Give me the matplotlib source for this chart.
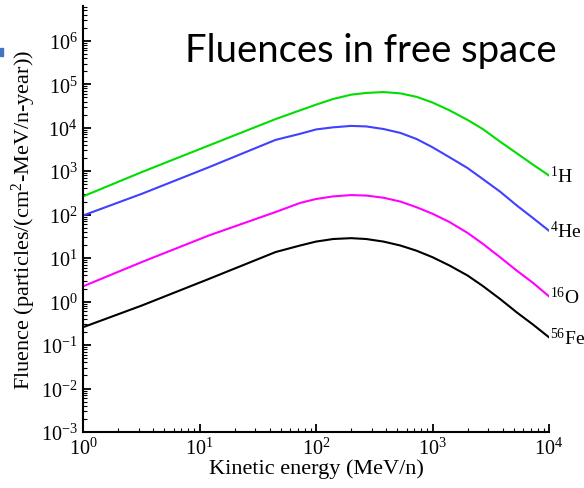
import matplotlib
matplotlib.use("Agg")
import matplotlib.pyplot as plt
from matplotlib.patches import Rectangle

plt.rcParams['font.family'] = ['Liberation Serif', 'DejaVu Serif']
plt.rcParams['mathtext.fontset'] = 'custom'
plt.rcParams['mathtext.rm'] = 'Liberation Serif'
plt.rcParams['mathtext.it'] = 'Liberation Serif:italic'
plt.rcParams['mathtext.bf'] = 'Liberation Serif:bold'

# Data
energy = [1, 3.2, 12, 45, 73, 100, 140, 200, 270, 380, 530, 730,
          1000, 1400, 2000, 2700, 3800, 5300, 7300, 10000]
fluence_H = [263, 955, 3890, 15800, 25100, 33900, 45700, 57500, 63100, 66100, 61700, 51300,
             38000, 25100, 15100, 9330, 4790, 2570, 1410, 794]
fluence_He = [95.5, 302, 1230, 5250, 7240, 9120, 10200, 11000, 10700, 9330, 7590, 5500,
              3550, 2090, 1180, 661, 339, 162, 83.2, 42.7]
fluence_O = [2.24, 8.13, 33.1, 115, 186, 229, 263, 282, 275, 245, 200, 148,
             105, 67.6, 38.0, 21.4, 10.5, 5.13, 2.69, 1.32]
fluence_Fe = [0.257, 0.813, 3.31, 13.8, 19.5, 24.0, 27.5, 28.8, 27.5, 24.0, 19.5, 14.8,
              10.5, 6.76, 3.98, 2.29, 1.15, 0.562, 0.295, 0.151]

series = [
    (fluence_H, '#00dd00', '$^{1}$H'),
    (fluence_He, '#4040ff', '$^{4}$He'),
    (fluence_O, '#ff00ff', '$^{16}$O'),
    (fluence_Fe, '#000000', '$^{56}$Fe'),
]
title_text = 'Fluences in free space'
xlabel = 'Kinetic energy (MeV/n)'
ylabel = 'Fluence (particles/(cm$^{2}$-MeV/n-year))'

W, H = 584, 489
fig = plt.figure(figsize=(W / 100, H / 100), dpi=100)
ax = fig.add_axes([83 / W, 1 - 433 / H, (549 - 83) / W, (433 - 7) / H])

for vals, col, lab in series:
    ax.plot(energy, vals, color=col, lw=1.5, solid_joinstyle='round')
    ax.annotate(lab, xy=(energy[-1], vals[-1]), xytext=(1, 0), textcoords='offset points',
                ha='left', va='center', fontsize=14, annotation_clip=False)

ax.set_xscale('log')
ax.set_yscale('log')
ax.set_xlim(1, 1e4)
ax.set_ylim(1e-3, 10 ** 6.8)
ax.set_yticks([10.0 ** k for k in range(-3, 7)])
ax.spines['top'].set_visible(False)
ax.spines['right'].set_visible(False)
for s in ('left', 'bottom'):
    ax.spines[s].set_linewidth(1.5)
ax.tick_params(which='major', direction='in', length=6, width=1.3, labelsize=14.5, pad=4)
ax.tick_params(which='minor', direction='in', length=3, width=0.8)
ax.set_xlabel(xlabel, fontsize=16, labelpad=0)
ax.set_ylabel(ylabel, fontsize=16, labelpad=2)

# Title-like caption, fit to the reference width
t = fig.text(185 / W, 1 - 62 / H, title_text, family=['Lato', 'DejaVu Sans'], fontsize=24,
             ha='left', va='baseline')
fig.canvas.draw()
r = fig.canvas.get_renderer()
w = t.get_window_extent(r).width
t.set_fontsize(24 * 372 / w)

# small blue marker at the left edge
fig.patches.append(Rectangle((0, 1 - 57 / H), 3 / W, 8 / H, transform=fig.transFigure,
                             color='#4472c4', figure=fig))

fig.savefig('out.png', dpi=100)
